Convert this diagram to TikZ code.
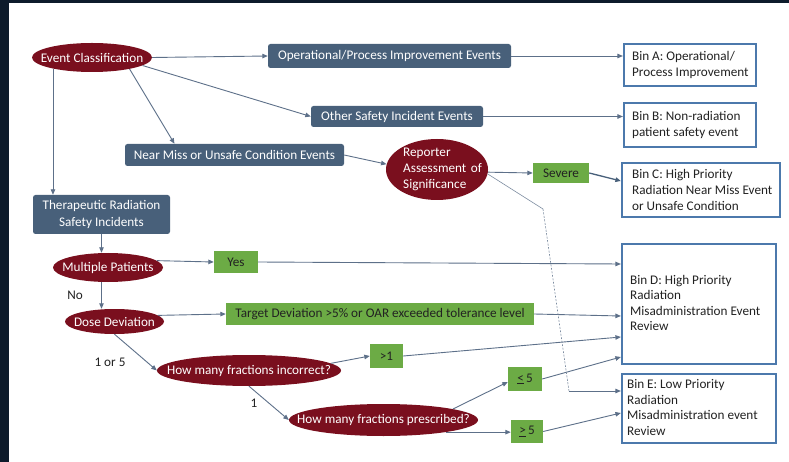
\documentclass[tikz,border=0pt]{standalone}
\usepackage{fontspec}
\setmainfont{Carlito}
\usetikzlibrary{shapes.geometric,arrows.meta,calc}
\definecolor{ered}{HTML}{7A0F1E}
\definecolor{sgray}{HTML}{48607A}
\definecolor{ggreen}{HTML}{6CAB45}
\definecolor{binblue}{HTML}{4C79AC}
\definecolor{lcol}{HTML}{5D7089}
\definecolor{navy}{HTML}{0D1B2B}
\definecolor{txt}{HTML}{222222}
\begin{document}
\begin{tikzpicture}[x=1pt,y=-1pt,
  font=\fontsize{13.2}{15.6}\selectfont,
  ell/.style={ellipse, fill=ered, inner sep=0pt},
  etext/.style={text=white, inner sep=0pt, align=center},
  sbox/.style={rectangle, rounded corners=2.5pt, fill=sgray, text=white, inner sep=0pt, align=center},
  gbox/.style={rectangle, fill=ggreen, text=txt, inner sep=0pt, align=center},
  bin/.style={rectangle, draw=binblue, line width=2.2pt, fill=white, inner sep=0pt},
  bintext/.style={text=txt, inner sep=0pt, align=left, anchor=west},
  lbl/.style={text=txt, inner sep=0pt},
  arr/.style={draw=lcol, line width=0.9pt, -{Triangle[length=5.5pt,width=4.5pt]}},
  plain/.style={draw=lcol!80, line width=0.6pt},
  dsh/.style={draw=lcol!80, line width=0.6pt, dash pattern=on 2pt off 1.5pt}]
\useasboundingbox (0,0) rectangle (789,462);
\fill[navy] (0,0) rectangle (789,462);
\fill[white] (9,3) rectangle (789,462);

% ellipses
\node[ell, minimum width=120pt, minimum height=29pt] (ec) at (92,57.5) {};
\node[etext] (ect) at (ec) {Event Classification};
\node[ell, minimum width=102pt, minimum height=61pt] (rep) at (437,169.5) {};
\node[text=white, inner sep=0pt, text width=82pt, align=left, anchor=west] (rept) at (403,169.5) {Reporter\\Assessment of\\Significance};
\node[ell, minimum width=110pt, minimum height=29pt] (mult) at (108,267.5) {};
\node[etext] (multt) at (mult) {Multiple Patients};
\node[ell, minimum width=99pt, minimum height=25pt] (dose) at (114.5,321.5) {};
\node[etext] (doset) at (dose) {Dose Deviation};
\node[ell, minimum width=184pt, minimum height=31pt] (hinc) at (249,370.5) {};
\node[etext] (hinct) at (hinc) {How many fractions incorrect?};
\node[ell, minimum width=189pt, minimum height=32pt] (hpre) at (383.5,420) {};
\node[etext] (hpret) at (hpre) {How many fractions prescribed?};

% boxes
\node[sbox, minimum width=243pt, minimum height=24pt] (op) at (389.5,56) {Operational/Process Improvement Events};
\node[sbox, minimum width=172pt, minimum height=21pt] (other) at (397,116.5) {Other Safety Incident Events};
\node[sbox, minimum width=219pt, minimum height=22pt] (nm) at (234.5,155) {Near Miss or Unsafe Condition Events};
\node[sbox, minimum width=137pt, minimum height=39pt, font=\fontsize{13.2}{16.5}\selectfont] (ther) at (101.5,214.5) {Therapeutic Radiation\\Safety Incidents};
\node[gbox, minimum width=56pt, minimum height=20pt] (sev) at (561,173) {Severe};
\node[gbox, minimum width=44pt, minimum height=22pt] (yes) at (236,262) {Yes};
\node[gbox, minimum width=308pt, minimum height=22pt] (target) at (380,314) {Target Deviation >5\% or OAR exceeded tolerance level};
\node[gbox, minimum width=33pt, minimum height=24pt] (gt1) at (386.5,356) {>1};
\node[gbox, minimum width=34pt, minimum height=24pt] (le5) at (525,379) {\underline{<}\,5};
\node[gbox, minimum width=32pt, minimum height=23pt] (ge5) at (527,431.5) {\underline{>}\,5};

% bins
\node[bin, minimum width=132pt, minimum height=42pt] (binA) at (690,65) {};
\node[bintext] (binAt) at ($(binA.west)+(9,0)$) {Bin A: Operational/\\Process Improvement};
\node[bin, minimum width=132pt, minimum height=44pt] (binB) at (690,125) {};
\node[bintext] (binBt) at ($(binB.west)+(9,0)$) {Bin B: Non-radiation\\patient safety event};
\node[bin, minimum width=158pt, minimum height=54pt] (binC) at (701,190) {};
\node[bintext] (binCt) at ($(binC.west)+(11,0)$) {Bin C: High Priority\\Radiation Near Miss Event\\or Unsafe Condition};
\node[bin, minimum width=154pt, minimum height=120pt] (binD) at (699,304) {};
\node[bintext] (binDt) at ($(binD.west)+(9,-1)$) {Bin D: High Priority\\Radiation\\Misadministration Event\\Review};
\node[bin, minimum width=154pt, minimum height=69pt] (binE) at (699,408.5) {};
\node[bintext] (binEt) at ($(binE.west)+(6,-1)$) {Bin E: Low Priority\\Radiation\\Misadministration event\\Review};

% labels
\node[lbl] (no) at (75,295) {No};
\node[lbl] (l15) at (110,362) {1 or 5};
\node[lbl] (l1) at (254,403) {1};

% connectors
\draw[arr] (ec.east) -- (op.west);
\draw[arr] (ec.-9) -- (other.west);
\draw[arr] (ec.-17) -- ($(nm.north)+(-60,0)$);
\draw[arr] (ec.-164) -- (ec.-164 |- ther.north);
\draw[arr] (op.east) -- (binA.west |- op.east);
\draw[arr] (other.east) -- (binB.west |- other.east);
\draw[arr] (nm.east) -- (rep.174);
\draw[arr] (rep.-3) -- (sev.west);
\draw[arr, line width=1.3pt, draw=sgray] (sev.east) -- ($(binC.west)+(0,-9)$);

\draw[arr] (ther.south) -- (ther.south |- mult.north);
\draw[arr] (mult.8) -- (yes.west);
\draw[arr] (yes.east) -- ($(binD.west)+(0,-40)$);
\draw[arr] (ther.south |- mult.south) -- (ther.south |- dose.north);
\draw[arr] (dose.8) -- (target.west);
\draw[arr] (target.east) -- ($(binD.west)+(0,12)$);
\draw[arr] (dose.south) -- (hinc.west);
\draw[arr] (hinc.5) -- (gt1.west);
\draw[arr] (gt1.east) -- ($(binD.west)+(0,33)$);
\draw[arr] (hinc.south) -- (hpre.west);
\draw[arr] (hpre.9) -- ($(le5.west)+(0,3)$);
\draw[arr] (le5.east) -- ($(binD.west)+(0,53)$);
\draw[arr] (hpre.-11) -- (hpre.-11 -| ge5.west);
\draw[arr] (ge5.east) -- ($(binE.west)+(0,4.5)$);

\coordinate (k1) at (543,209);
\coordinate (k2) at (569,391);
\draw[plain] (rep.-5) -- (k1);
\draw[dsh] (k1) -- (k2);
\draw[arr] (k2) -- (k2 -| binE.west);
\end{tikzpicture}
\end{document}
